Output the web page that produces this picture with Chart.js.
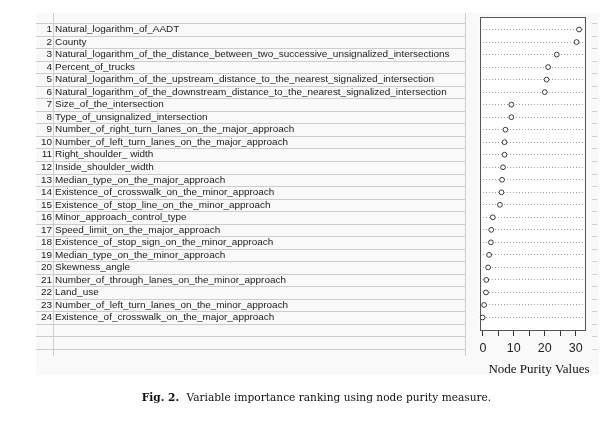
<!DOCTYPE html>
<html><head><meta charset="utf-8">
<script src="https://cdn.jsdelivr.net/npm/chart.js@4/dist/chart.umd.min.js"></script>
<style>html,body{margin:0;padding:0;background:#fff;}</style>
</head><body>
<canvas id="c" width="615" height="422"></canvas>
<script>
const ranks = [1,2,3,4,5,6,7,8,9,10,11,12,13,14,15,16,17,18,19,20,21,22,23,24];
const variables = [
  'Natural_logarithm_of_AADT',
  'County',
  'Natural_logarithm_of_the_distance_between_two_successive_unsignalized_intersections',
  'Percent_of_trucks',
  'Natural_logarithm_of_the_upstream_distance_to_the_nearest_signalized_intersection',
  'Natural_logarithm_of_the_downstream_distance_to_the_nearest_signalized_intersection',
  'Size_of_the_intersection',
  'Type_of_unsignalized_intersection',
  'Number_of_right_turn_lanes_on_the_major_approach',
  'Number_of_left_turn_lanes_on_the_major_approach',
  'Right_shoulder_ width',
  'Inside_shoulder_width',
  'Median_type_on_the_major_approach',
  'Existence_of_crosswalk_on_the_minor_approach',
  'Existence_of_stop_line_on_the_minor_approach',
  'Minor_approach_control_type',
  'Speed_limit_on_the_major_approach',
  'Existence_of_stop_sign_on_the_minor_approach',
  'Median_type_on_the_minor_approach',
  'Skewness_angle',
  'Number_of_through_lanes_on_the_minor_approach',
  'Land_use',
  'Number_of_left_turn_lanes_on_the_minor_approach',
  'Existence_of_crosswalk_on_the_major_approach'
];
const purity = [31.1, 30.3, 23.9, 21.1, 20.6, 20.0, 9.2, 9.2, 7.3, 7.0, 7.0, 6.5,
                6.2, 6.0, 5.5, 3.2, 2.7, 2.6, 2.0, 1.7, 1.1, 1.0, 0.4, -0.1];
const xTicks = [0, 5, 10, 15, 20, 25, 30];
const xTickLabels = ['0', '', '10', '', '20', '', '30'];
const xTitle = 'Node Purity Values';
const captionBold = 'Fig. 2.';
const captionText = 'Variable importance ranking using node purity measure.';

const SANS = '"Liberation Sans", Arial, sans-serif';
const SERIF = '"Liberation Serif", "Times New Roman", serif';
const CAPSERIF = '"DejaVu Serif", serif';

const sheetPlugin = {
  id: 'sheet',
  beforeDraw(chart) {
    const ctx = chart.ctx;
    const y = chart.scales.yLab;
    ctx.save();
    ctx.fillStyle = '#f9f9f9';
    ctx.fillRect(36, 13, 563, 362);
    ctx.strokeStyle = '#cdcdcd';
    ctx.lineWidth = 1;
    ctx.beginPath();
    for (let k = 0; k <= 26; k++) {
      const py = Math.round(y.getPixelForValue(k + 0.5)) + 0.5;
      ctx.moveTo(36, py); ctx.lineTo(466, py);
      ctx.moveTo(592, py); ctx.lineTo(597, py);
    }
    ctx.moveTo(53.5, 13); ctx.lineTo(53.5, 356);
    ctx.moveTo(465.5, 13); ctx.lineTo(465.5, 356);
    ctx.stroke();
    const a = chart.chartArea;
    ctx.fillStyle = '#ffffff';
    ctx.fillRect(a.left, a.top, a.right - a.left, a.bottom - a.top);
    ctx.restore();
  },
  afterDraw(chart) {
    const ctx = chart.ctx;
    const a = chart.chartArea;
    ctx.save();
    ctx.strokeStyle = '#555';
    ctx.lineWidth = 1;
    ctx.strokeRect(Math.round(a.left) + 0.5, Math.round(a.top) + 0.5,
                   Math.round(a.right - a.left), Math.round(a.bottom - a.top));
    // axis title
    ctx.fillStyle = '#111';
    ctx.textBaseline = 'middle';
    ctx.textAlign = 'center';
    ctx.font = '13px ' + SERIF;
    ctx.fillText(xTitle, 539, 369.5);
    // caption
    const fb = 'bold 10.6px ' + CAPSERIF;
    const fn = '10.6px ' + CAPSERIF;
    ctx.font = fb; const wb = ctx.measureText(captionBold + '  ').width;
    ctx.font = fn; const wn = ctx.measureText(captionText).width;
    let x0 = 316.5 - (wb + wn) / 2;
    ctx.textAlign = 'left';
    ctx.font = fb; ctx.fillText(captionBold, x0, 398);
    ctx.font = fn; ctx.fillText(captionText, x0 + wb, 398);
    ctx.restore();
  }
};

new Chart(document.getElementById('c'), {
  type: 'scatter',
  data: {
    datasets: [{
      data: purity.map((v, i) => ({ x: v, y: ranks[i] })),
      yAxisID: 'yLab',
      xAxisID: 'x',
      pointRadius: 2.4,
      pointBorderWidth: 1,
      pointBorderColor: '#3a3a3a',
      pointBackgroundColor: '#ffffff',
      showLine: false
    }]
  },
  options: {
    responsive: false,
    animation: false,
    devicePixelRatio: 1,
    layout: { padding: { left: 30, right: 31, top: 17, bottom: 42 } },
    plugins: { legend: { display: false }, tooltip: { enabled: false } },
    scales: {
      x: {
        type: 'linear', position: 'bottom', min: -1.1, max: 32.7,
        afterBuildTicks: s => { s.ticks = xTicks.map(v => ({ value: v })); },
        afterFit: s => { s.height = 50; },
        ticks: {
          callback: v => xTickLabels[xTicks.indexOf(v)],
          font: { family: SANS, size: 12.5 }, color: '#222', padding: 5,
          maxRotation: 0, autoSkip: false
        },
        grid: { drawOnChartArea: false, drawTicks: true, tickLength: 6, color: '#333', tickColor: '#333' },
        border: { display: false }
      },
      yNum: {
        type: 'linear', position: 'left', weight: 1, min: 0, max: 25, reverse: true,
        afterBuildTicks: s => { s.ticks = ranks.map(v => ({ value: v })); },
        afterFit: s => { s.width = 25; },
        ticks: { callback: v => String(v), crossAlign: 'near', padding: 3,
                 font: { family: SANS, size: 9.95 }, color: '#1a1a1a', autoSkip: false },
        grid: { display: false, drawTicks: false },
        border: { display: false }
      },
      yLab: {
        type: 'linear', position: 'left', weight: 0, min: 0, max: 25, reverse: true,
        afterBuildTicks: s => { s.ticks = ranks.map(v => ({ value: v })); },
        afterFit: s => { s.width = 424.5; },
        ticks: { callback: v => variables[v - 1], crossAlign: 'far',
                 font: { family: SANS, size: 9.95 }, color: '#1a1a1a', autoSkip: false },
        grid: { drawTicks: false, color: '#a0a0a0', lineWidth: 1 },
        border: { display: false, dash: [1, 2] }
      }
    }
  },
  plugins: [sheetPlugin]
});
</script>
</body></html>
